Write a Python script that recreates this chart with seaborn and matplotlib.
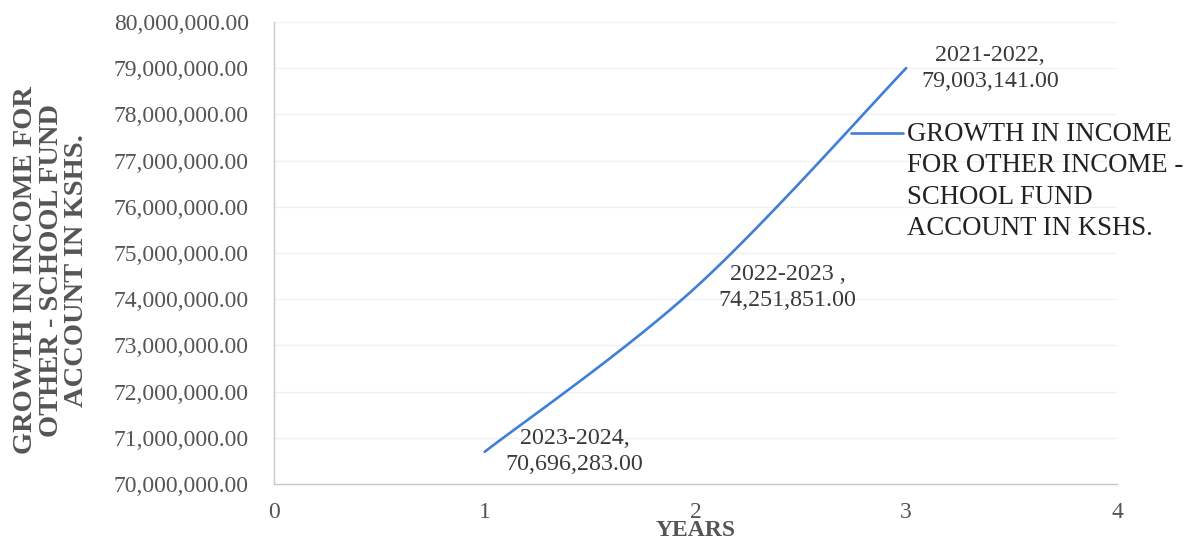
import numpy as np
import pandas as pd
import matplotlib
matplotlib.use("Agg")
import matplotlib.pyplot as plt
from matplotlib.lines import Line2D
from matplotlib.ticker import FuncFormatter, MultipleLocator
import seaborn as sns

# Income per financial year (KSHS), plotted against year index
years = [1, 2, 3]
periods = ["2023-2024,", "2022-2023 ,", "2021-2022,"]
income = [70696283.00, 74251851.00, 79003141.00]
series_name = "GROWTH IN INCOME\nFOR OTHER INCOME -\nSCHOOL FUND\nACCOUNT IN KSHS."
y_title = "GROWTH IN INCOME FOR\nOTHER - SCHOOL FUND\nACCOUNT IN KSHS."
x_title = "YEARS"

sns.set_theme(style="white")
plt.rcParams["font.family"] = ["Liberation Serif", "DejaVu Serif"]

LINE = "#3f7fd8"
TXT = "#3a3a3a"


def smooth_curve(xs, ys, n=60):
    """Spreadsheet-style smoothed line: cubic Bezier segments whose
    control points follow the neighbouring points."""
    p = np.column_stack([xs, ys]).astype(float)
    ext = np.vstack([p[0], p, p[-1]])
    out = []
    t = np.linspace(0, 1, n)[:, None]
    for i in range(len(p) - 1):
        p0, p1, p2, p3 = ext[i], ext[i + 1], ext[i + 2], ext[i + 3]
        c1 = p1 + (p2 - p0) / 6.0
        c2 = p2 - (p3 - p1) / 6.0
        seg = ((1 - t) ** 3) * p1 + 3 * ((1 - t) ** 2) * t * c1 \
            + 3 * (1 - t) * t ** 2 * c2 + t ** 3 * p2
        out.append(seg if i == 0 else seg[1:])
    arr = np.vstack(out)
    return arr[:, 0], arr[:, 1]


sx, sy = smooth_curve(years, income)
curve = pd.DataFrame({"year": sx, "income": sy})

fig = plt.figure(figsize=(11.89, 5.38), dpi=100)
ax = fig.add_axes([0.2304, 0.1004, 0.7090, 0.8586])

sns.lineplot(data=curve, x="year", y="income", ax=ax, color=LINE,
             linewidth=1.9, sort=False, estimator=None)

ax.set_xlim(0, 4)
ax.set_ylim(70_000_000, 80_000_000)
ax.xaxis.set_major_locator(MultipleLocator(1))
ax.yaxis.set_major_locator(MultipleLocator(1_000_000))
ax.yaxis.set_major_formatter(FuncFormatter(lambda v, _: f"{v:,.2f}"))
ax.xaxis.set_major_formatter(FuncFormatter(lambda v, _: f"{int(v)}"))

ax.grid(axis="y", color="#f1f1f1", linewidth=1.0)
for side in ("top", "right"):
    ax.spines[side].set_visible(False)
for side in ("left", "bottom"):
    ax.spines[side].set_color("#c8c8c8")
    ax.spines[side].set_linewidth(1.0)

ax.tick_params(axis="y", which="major", direction="inout", length=6,
               width=0.8, color="#c8c8c8", pad=15, labelsize=17,
               labelcolor="#555555")
ax.tick_params(axis="x", which="major", direction="out", length=4,
               width=0.8, color="#c8c8c8", pad=9, labelsize=17,
               labelcolor="#555555")
ax.set_ylabel("")
ax.set_xlabel(x_title, fontsize=17, fontweight="bold", color="#555555")
ax.xaxis.set_label_coords(0.5, -0.079)
ax.xaxis.label.set_va("top")

fig.text(0.043, 0.498, y_title, rotation=90, ha="center", va="center",
         multialignment="center", fontsize=20.5, fontweight="bold",
         color="#555555", linespacing=1.04)

# value labels beside each point
offsets = [(90, 0), (92, 0), (84, 0)]
for x, y, per, (dx, dy) in zip(years, income, periods, offsets):
    ax.annotate(f"{per}\n{y:,.2f}", xy=(x, y), xytext=(dx, dy),
                textcoords="offset pixels", ha="center", va="center",
                fontsize=17.3, color=TXT, linespacing=1.3)

# series key on the right
fig.add_artist(Line2D([851 / 1189, 903 / 1189], [1 - 133 / 538, 1 - 133 / 538],
                      color=LINE, linewidth=1.9, transform=fig.transFigure))
fig.text(907 / 1189, 1 - 122 / 538, series_name, ha="left", va="top",
         fontsize=19.3, color="#222222", linespacing=1.33)

fig.savefig("out.png", dpi=100)
